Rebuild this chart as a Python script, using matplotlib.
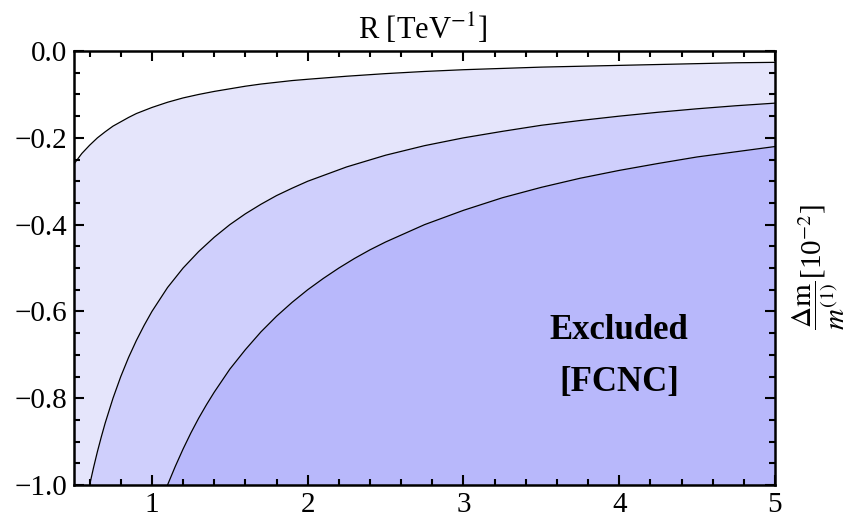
import matplotlib
matplotlib.use("Agg")
import numpy as np
from matplotlib import pyplot as plt
from matplotlib.ticker import MultipleLocator

plt.rcParams['font.family'] = ['Liberation Serif', 'DejaVu Serif']
plt.rcParams['mathtext.fontset'] = 'stix'

# curves: upper, middle and lower bound
x_top = [0.5, 0.55, 0.6, 0.65, 0.7, 0.75, 0.8, 0.85, 0.9, 0.95, 1.0, 1.1, 1.2, 1.3, 1.4,
         1.5, 1.6, 1.7, 1.8, 1.9, 2.0, 2.25, 2.5, 2.75, 3.0, 3.25, 3.5, 3.75, 4.0,
         4.25, 4.5, 4.75, 5.0]
y_top = [-0.26, -0.236, -0.217, -0.2, -0.186, -0.173, -0.163, -0.153, -0.144, -0.137,
         -0.13, -0.118, -0.108, -0.1, -0.093, -0.087, -0.081, -0.076, -0.072, -0.068,
         -0.065, -0.058, -0.052, -0.047, -0.043, -0.04, -0.037, -0.035, -0.033,
         -0.031, -0.029, -0.027, -0.026]

x_mid = [0.6, 0.625, 0.65, 0.675, 0.7, 0.75, 0.8, 0.85, 0.9, 0.95, 1.0, 1.1, 1.2, 1.3,
         1.4, 1.5, 1.6, 1.7, 1.8, 1.9, 2.0, 2.25, 2.5, 2.75, 3.0, 3.25, 3.5, 3.75, 4.0,
         4.25, 4.5, 4.75, 5.0]
y_mid = [-1.0, -0.96, -0.923, -0.889, -0.857, -0.8, -0.75, -0.706, -0.667, -0.632,
         -0.6, -0.545, -0.5, -0.462, -0.429, -0.4, -0.375, -0.353, -0.333, -0.316,
         -0.3, -0.267, -0.24, -0.218, -0.2, -0.185, -0.171, -0.16, -0.15, -0.141,
         -0.133, -0.126, -0.12]

x_low = [1.1, 1.15, 1.2, 1.25, 1.3, 1.35, 1.4, 1.5, 1.6, 1.7, 1.8, 1.9, 2.0, 2.1, 2.2,
         2.3, 2.4, 2.5, 2.75, 3.0, 3.25, 3.5, 3.75, 4.0, 4.25, 4.5, 4.75, 5.0]
y_low = [-1.0, -0.957, -0.917, -0.88, -0.846, -0.815, -0.786, -0.733, -0.688, -0.647,
         -0.611, -0.579, -0.55, -0.524, -0.5, -0.478, -0.458, -0.44, -0.4, -0.367,
         -0.338, -0.314, -0.293, -0.275, -0.259, -0.244, -0.232, -0.22]

colors = ["#e5e5fb", "#cfcffc", "#b8b8fb"]

fig = plt.figure(figsize=(8.57, 5.21), dpi=100)
ax = fig.add_axes([0.0864, 0.069, 0.8179, 0.833])

# filled bands, each from its curve down to -1
ax.fill_between(x_top, y_top, -1.0, color=colors[0], lw=0)
ax.fill_between(x_mid, y_mid, -1.0, color=colors[1], lw=0)
ax.fill_between(x_low, y_low, -1.0, color=colors[2], lw=0)

for xs, ys in [(x_top, y_top), (x_mid, y_mid), (x_low, y_low)]:
    ax.plot(xs, ys, color="black", lw=0.9)

ax.set_xlim(0.5, 5)
ax.set_ylim(-1.0, 0.0)
ax.xaxis.set_major_locator(MultipleLocator(1))
ax.xaxis.set_minor_locator(MultipleLocator(0.2))
ax.yaxis.set_minor_locator(MultipleLocator(0.05))
ax.set_yticks([0.0, -0.2, -0.4, -0.6, -0.8, -1.0])
ax.set_yticklabels(["0.0", "\u22120.2", "\u22120.4", "\u22120.6", "\u22120.8", "\u22121.0"])
ax.tick_params(which="both", direction="in", top=True, right=True, labelsize=21, width=1.5)
ax.tick_params(which="major", length=7, pad=5)
ax.tick_params(which="minor", length=4)
for s in ax.spines.values():
    s.set_linewidth(1.8)

ax.text(4.0, -0.643, "Excluded", ha="center", va="center", fontsize=25, fontweight="bold")
ax.text(4.0, -0.763, "[FCNC]", ha="center", va="center", fontsize=25, fontweight="bold")

fig.text(0.493, 0.945, r"R [TeV$^{-1}$]", ha="center", va="center", fontsize=22)
fig.text(0.955, 0.488, r"$\dfrac{\Delta \mathrm{m}}{m^{(1)}}$[10$^{-2}$]", ha="center", va="center",
         rotation=90, fontsize=21)

plt.savefig("out.png")
